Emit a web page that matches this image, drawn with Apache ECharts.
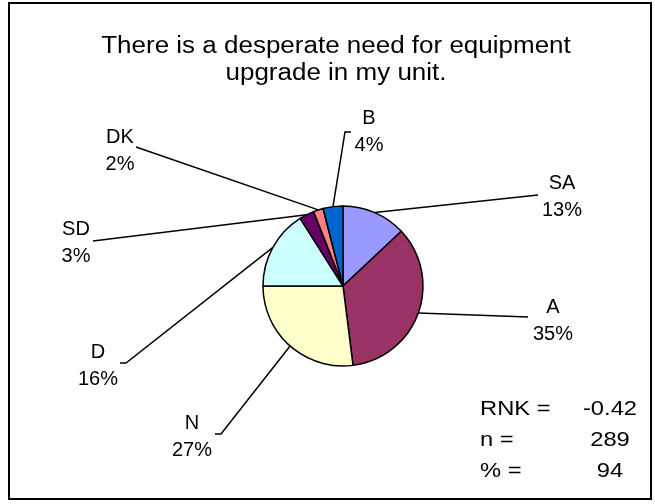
<!DOCTYPE html>
<html>
<head>
<meta charset="utf-8">
<script src="https://cdn.jsdelivr.net/npm/echarts@6/dist/echarts.min.js"></script>
<style>
html,body{margin:0;padding:0;background:#fff;}
#chart{width:655px;height:504px;}
</style>
</head>
<body>
<div id="chart"></div>
<script>
// ---- data ----
var categories = ['SA', 'A', 'N', 'D', 'SD', 'DK', 'B'];
var values = [13, 35, 27, 16, 3, 2, 4];
var titleLines = ['There is a desperate need for equipment', 'upgrade in my unit.'];
var statNames = ['RNK =', 'n =', '% ='];
var statValues = ['-0.42', '289', '94'];

// ---- styling / layout (not data) ----
var colors = ['#9999FF', '#993366', '#FFFFCC', '#CCFFFF', '#660066', '#FF8080', '#0066CC'];
// label centre and leader-line elbow/end points for each slice
var labelPos = [
  {x: 562, y: 197, pts: [[538, 195]]},
  {x: 553, y: 321, pts: [[528, 317]]},
  {x: 192, y: 437, pts: [[221, 434], [215, 434]]},
  {x: 98,  y: 366, pts: [[126, 363], [120, 363]]},
  {x: 76,  y: 243, pts: [[93, 241]]},
  {x: 120, y: 151, pts: [[136, 147]]},
  {x: 369, y: 132, pts: [[345, 132], [351, 132]]}
];
var FONT = '"Liberation Sans", Arial, sans-serif';
var CX = 343, CY = 286, R = 80;
var SX = 1.13;

var chart = echarts.init(document.getElementById('chart'));

var data = categories.map(function (c, i) {
  return {name: c, value: values[i], itemStyle: {color: colors[i]}};
});

function stretchedText(x, y, text, size, align, lh) {
  return {
    type: 'group', x: x, y: y, scaleX: SX,
    children: [{type: 'text', x: 0, y: 0,
      style: {text: text, font: size + 'px ' + FONT, fill: '#000',
              textAlign: align, textVerticalAlign: 'middle', lineHeight: lh || size}}]
  };
}

var graphics = [
  {type: 'rect', shape: {x: 9, y: 3, width: 642, height: 496},
   style: {fill: 'none', stroke: '#000', lineWidth: 2}, z: 100},
  stretchedText(336, 60, titleLines.join('\n'), 23, 'center', 27)
];
statNames.forEach(function (n, i) {
  graphics.push(stretchedText(480, 409 + i * 31, n, 21, 'left'));
  graphics.push(stretchedText(610, 409 + i * 31, statValues[i], 21, 'center'));
});

chart.setOption({
  animation: false,
  backgroundColor: '#fff',
  graphic: graphics,
  series: [{
    type: 'pie',
    center: [CX, CY],
    radius: R,
    startAngle: 90,
    clockwise: true,
    data: data,
    itemStyle: {borderColor: '#000', borderWidth: 1.5},
    emphasis: {disabled: true},
    label: {
      show: true,
      formatter: '{b}\n{c}%',
      fontFamily: FONT, fontSize: 20, color: '#000',
      lineHeight: 27, align: 'center'
    },
    labelLine: {show: true, length: 10, length2: 10, lineStyle: {color: '#000', width: 1.5}},
    labelLayout: function (params) {
      var p = labelPos[params.dataIndex];
      var start = params.labelLinePoints ? params.labelLinePoints[0] : null;
      var res = {x: p.x, y: p.y, align: 'center', verticalAlign: 'middle'};
      if (start) res.labelLinePoints = [start].concat(p.pts);
      return res;
    }
  }]
});
</script>
</body>
</html>
